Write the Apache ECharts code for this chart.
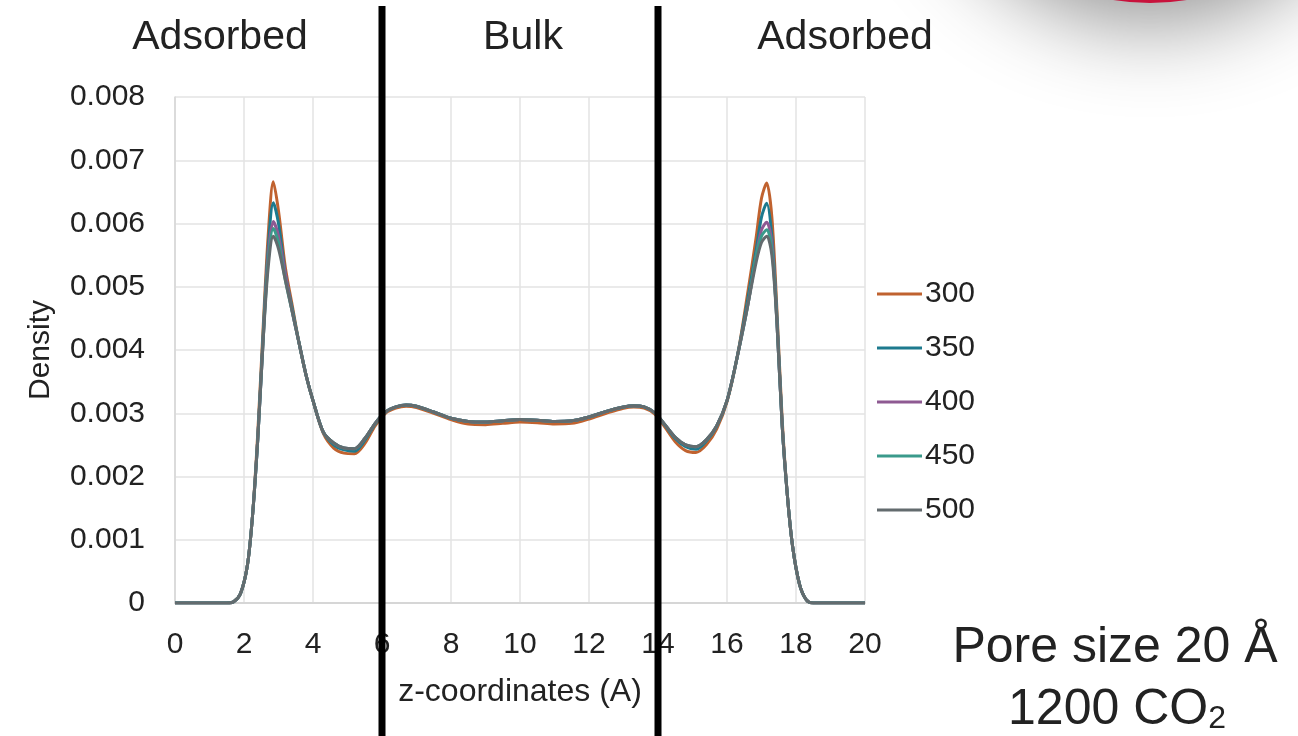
<!DOCTYPE html>
<html lang="en">
<head>
    <meta charset="UTF-8">
    <title>Density profile - pore size 20 A</title>
    <style>
        html, body { margin: 0; padding: 0; background: #fff; }
        #main { width: 1298px; height: 736px; }
    </style>
</head>
<script type="text/javascript" src="https://cdn.jsdelivr.net/npm/echarts@6.0.0/dist/echarts.min.js"></script>
<body>
<div id="main"></div>
<script type="text/javascript">
    // z positions (A) where density was read
    var zCoord = [0, 1.0, 1.5, 1.7, 1.9, 2.1, 2.25, 2.4, 2.55, 2.7,
        2.85, 3.0, 3.2, 3.4, 3.6, 3.8, 4.0, 4.3, 4.6, 4.9,
        5.2, 5.5, 5.8, 6.1, 6.4, 6.7, 7.0, 7.5, 8.0, 8.5,
        9.0, 9.5, 10.0, 10.5, 11.0, 11.5, 12.0, 12.5, 13.0, 13.3,
        13.6, 13.9, 14.2, 14.5, 14.8, 15.1, 15.4, 15.7, 16.0, 16.3,
        16.6, 16.85, 17.0, 17.15, 17.3, 17.45, 17.6, 17.75, 17.9, 18.1,
        18.3, 18.5, 19.0, 20];

    var d300 = [0, 0, 0, 0.00002, 0.00015, 0.0006, 0.0014, 0.0027, 0.0043, 0.0058,
        0.00666, 0.0062, 0.0053, 0.0047, 0.0041, 0.0036, 0.0032, 0.00268, 0.00245, 0.00237,
        0.00236, 0.00252, 0.0028, 0.003, 0.00308, 0.00311, 0.00309, 0.003, 0.0029, 0.00283,
        0.00282, 0.00284, 0.00286, 0.00285, 0.00283, 0.00284, 0.00291, 0.003, 0.00308, 0.0031,
        0.00308, 0.00299, 0.00278, 0.00255, 0.00241, 0.00238, 0.0025, 0.00275, 0.00318, 0.0039,
        0.0049, 0.0058, 0.0064, 0.00664, 0.0061, 0.0046, 0.0029, 0.0017, 0.0009, 0.0003,
        0.00005, 0, 0, 0];
    var d350 = [0, 0, 0, 0.00002, 0.00015, 0.0006, 0.0014, 0.0026, 0.0042, 0.0056,
        0.00633, 0.006, 0.0052, 0.00465, 0.0041, 0.0036, 0.0032, 0.0027, 0.0025, 0.00242,
        0.0024, 0.00257, 0.00283, 0.00302, 0.0031, 0.00313, 0.00311, 0.00302, 0.00292, 0.00287,
        0.00286, 0.00288, 0.0029, 0.00289, 0.00287, 0.00288, 0.00294, 0.00303, 0.0031, 0.00312,
        0.0031, 0.00301, 0.00281, 0.0026, 0.00247, 0.00243, 0.00256, 0.00279, 0.0032, 0.0039,
        0.0048, 0.0056, 0.0061, 0.00632, 0.0058, 0.0045, 0.0028, 0.0017, 0.0009, 0.0003,
        0.00005, 0, 0, 0];
    var d400 = [0, 0, 0, 0.00002, 0.00015, 0.0006, 0.0014, 0.0026, 0.0041, 0.0055,
        0.00603, 0.0058, 0.0052, 0.0046, 0.0041, 0.0036, 0.0032, 0.0027, 0.00253, 0.00245,
        0.00244, 0.0026, 0.00284, 0.00302, 0.0031, 0.00313, 0.00311, 0.00302, 0.00292, 0.00287,
        0.00286, 0.00288, 0.0029, 0.00289, 0.00287, 0.00288, 0.00294, 0.00303, 0.0031, 0.00312,
        0.0031, 0.00301, 0.00282, 0.00262, 0.0025, 0.00247, 0.00258, 0.0028, 0.0032, 0.0039,
        0.0047, 0.0055, 0.0059, 0.00602, 0.0057, 0.0044, 0.0028, 0.0017, 0.0009, 0.0003,
        0.00005, 0, 0, 0];
    var d450 = [0, 0, 0, 0.00002, 0.00015, 0.0006, 0.0014, 0.0026, 0.0041, 0.0054,
        0.00592, 0.0057, 0.0051, 0.0046, 0.0041, 0.0036, 0.0032, 0.0027, 0.00253, 0.00245,
        0.00244, 0.0026, 0.00284, 0.00302, 0.0031, 0.00313, 0.00311, 0.00302, 0.00292, 0.00287,
        0.00286, 0.00288, 0.0029, 0.00289, 0.00287, 0.00288, 0.00294, 0.00303, 0.0031, 0.00312,
        0.0031, 0.00301, 0.00282, 0.00262, 0.0025, 0.00247, 0.00258, 0.0028, 0.0032, 0.0039,
        0.0047, 0.0055, 0.0058, 0.0059, 0.0056, 0.0044, 0.0028, 0.0017, 0.0009, 0.0003,
        0.00005, 0, 0, 0];
    var d500 = [0, 0, 0, 0.00002, 0.00015, 0.0006, 0.0014, 0.0026, 0.0041, 0.0053,
        0.0058, 0.0056, 0.0051, 0.0046, 0.0041, 0.0036, 0.0032, 0.0027, 0.00253, 0.00245,
        0.00244, 0.0026, 0.00284, 0.00302, 0.0031, 0.00313, 0.00311, 0.00302, 0.00292, 0.00287,
        0.00286, 0.00288, 0.0029, 0.00289, 0.00287, 0.00288, 0.00294, 0.00303, 0.0031, 0.00312,
        0.0031, 0.00301, 0.00282, 0.00262, 0.0025, 0.00247, 0.00258, 0.0028, 0.0032, 0.0039,
        0.0047, 0.0054, 0.0057, 0.0058, 0.0055, 0.0044, 0.0028, 0.0017, 0.0009, 0.0003,
        0.00005, 0, 0, 0];

    var seriesNames = ['300', '350', '400', '450', '500'];
    var seriesColors = ['#c0622f', '#1d7a8e', '#8e5a92', '#3a9a8b', '#636b6e'];
    var seriesData = [d300, d350, d400, d450, d500];

    // region boundaries (A) drawn as thick black lines
    var dividerZ = [6, 14];

    var font = '"Liberation Sans", Arial, Helvetica, sans-serif';

    function pairs(vals) {
        return zCoord.map(function (z, i) { return [z, vals[i]]; });
    }

    var chart = echarts.init(document.getElementById('main'));

    chart.setOption({
        animation: false,
        backgroundColor: '#fff',
        grid: { left: 175, right: 433, top: 97, bottom: 133 },
        legend: {
            data: seriesNames,
            orient: 'vertical',
            left: 877,
            top: 279,
            padding: 0,
            icon: 'rect',
            itemWidth: 45,
            itemHeight: 3,
            itemGap: 24,
            textStyle: { fontFamily: font, fontSize: 30, color: '#222', lineHeight: 30, padding: [0, 0, 0, -2] }
        },
        xAxis: {
            type: 'value',
            min: 0, max: 20, interval: 2,
            name: 'z-coordinates (A)',
            nameLocation: 'middle',
            nameGap: 73,
            nameTextStyle: { fontFamily: font, fontSize: 32, color: '#222' },
            axisLine: { lineStyle: { color: '#d6d6d6', width: 2 } },
            axisTick: { show: false },
            axisLabel: { fontFamily: font, fontSize: 30, color: '#222', margin: 27 },
            splitLine: { lineStyle: { color: '#e3e3e3', width: 1.5 } }
        },
        yAxis: {
            type: 'value',
            min: 0, max: 0.008, interval: 0.001,
            name: 'Density',
            nameLocation: 'middle',
            nameGap: 119,
            nameTextStyle: { fontFamily: font, fontSize: 30, color: '#222' },
            axisLine: { show: true, lineStyle: { color: '#d6d6d6', width: 1.5 } },
            axisTick: { show: false },
            axisLabel: { fontFamily: font, fontSize: 30, color: '#222', margin: 30 },
            splitLine: { lineStyle: { color: '#e3e3e3', width: 1.5 } }
        },
        series: seriesNames.map(function (name, i) {
            return {
                name: name,
                type: 'line',
                data: pairs(seriesData[i]),
                symbol: 'none',
                showSymbol: false,
                smooth: 0.3,
                color: seriesColors[i],
                lineStyle: { width: 3, color: seriesColors[i] }
            };
        })
    });

    var graphics = [
        {
            type: 'circle',
            z: 1,
            shape: { cx: 1150, cy: -225, r: 228 },
            style: { fill: '#c8123c', shadowBlur: 90, shadowColor: 'rgba(0,0,0,0.45)', shadowOffsetY: 18 }
        },
        { type: 'text', z: 50, style: { text: 'Adsorbed', x: 220, y: 38, font: '41px ' + font, fill: '#222', align: 'center', verticalAlign: 'middle' } },
        { type: 'text', z: 50, style: { text: 'Bulk', x: 523, y: 38, font: '41px ' + font, fill: '#222', align: 'center', verticalAlign: 'middle' } },
        { type: 'text', z: 50, style: { text: 'Adsorbed', x: 845, y: 38, font: '41px ' + font, fill: '#222', align: 'center', verticalAlign: 'middle' } },
        { type: 'text', z: 50, style: { text: 'Pore size 20 Å', x: 1115, y: 648, font: '50px ' + font, fill: '#222', align: 'center', verticalAlign: 'middle' } },
        {
            type: 'text', z: 50,
            style: {
                text: '1200 CO{sub|2}', x: 1117, y: 710, font: '50px ' + font, fill: '#222',
                align: 'center', verticalAlign: 'middle',
                rich: { sub: { fontSize: 32, fontFamily: font, fill: '#222', verticalAlign: 'bottom', padding: [14, 0, 0, 0] } }
            }
        }
    ];
    dividerZ.forEach(function (z) {
        var px = chart.convertToPixel({ xAxisIndex: 0 }, z);
        graphics.push({
            type: 'line', z: 100,
            shape: { x1: px, y1: 6, x2: px, y2: 736 },
            style: { stroke: '#000', lineWidth: 7 }
        });
    });
    chart.setOption({ graphic: graphics });
</script>
</body>
</html>
